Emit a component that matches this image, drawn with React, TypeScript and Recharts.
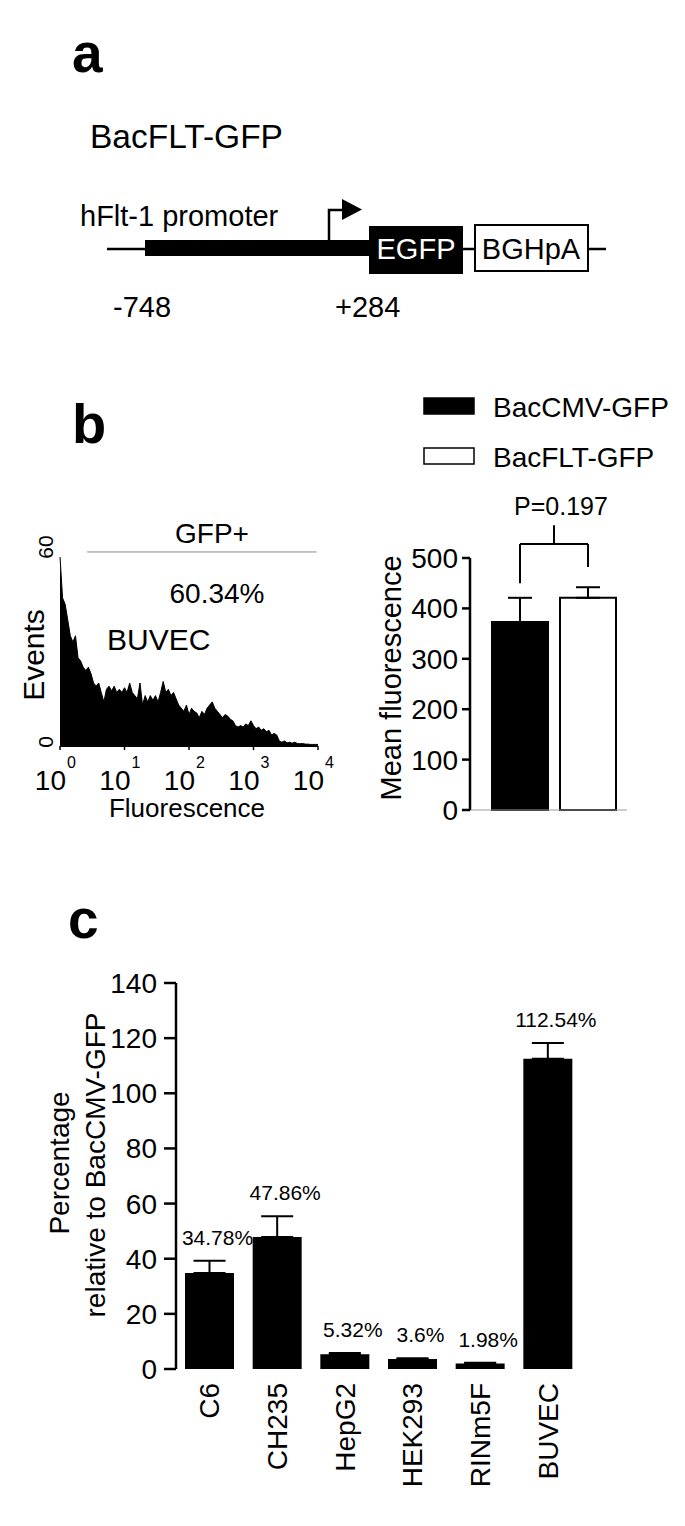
import React from "react";
import {
  AreaChart,
  Area,
  BarChart,
  Bar,
  XAxis,
  YAxis,
  ErrorBar,
  ReferenceLine,
  LabelList,
  Cell,
} from "recharts";

const FONT = '"Liberation Sans", Arial, Helvetica, sans-serif';

// ---- panel b, left: BUVEC flow histogram (log10 fluorescence channels) ----
const HIST_BIN = 0.04;
const histEvents = [
  60, 47, 45, 40, 35, 33, 35, 28, 27, 25, 24, 25, 23, 20, 19, 20, 17, 14, 18, 19,
  17.5, 19, 17, 18, 17, 18.5, 17, 20, 17, 16, 15, 20, 13, 16, 14, 16, 14.5, 16, 14, 17,
  20.5, 17, 18, 16, 17, 15, 13, 12, 11, 13, 10, 12, 11, 10.5, 9, 11, 10, 12, 13, 14,
  12, 11, 10, 9, 10, 9.5, 8.5, 8, 6.5, 6, 6.5, 6, 7, 6.5, 8, 6.5, 5.5, 6, 5, 5.5,
  4.5, 5, 3.5, 4, 3.5, 1.6, 1.2, 1.6, 1, 1.2, 0.9, 1.2, 0.8, 0.7, 0.8, 0.6, 0.6, 0.5, 0.5, 0.5,
  0.5,
];
const histDecades = [0, 1, 2, 3, 4];
const histYTicks = [0, 60];
const gateRange = [0.42, 3.98];
const gateLevel = 61.6;

// ---- panel b, right: mean fluorescence ----
const mfConstructs = ["BacCMV-GFP", "BacFLT-GFP"];
const mfPositions = [0.5, 1.5];
const mfValues = [373, 421];
const mfErrors = [48, 21];
const mfFills = ["#000000", "#ffffff"];
const mfTicks = [0, 100, 200, 300, 400, 500];
const mfBracket = { base: 528, left: 450, right: 482, stem: 565 };

// ---- panel c: percentage relative to BacCMV-GFP ----
const cellLines = ["C6", "CH235", "HepG2", "HEK293", "RINm5F", "BUVEC"];
const pctValues = [34.78, 47.86, 5.32, 3.6, 1.98, 112.54];
const pctErrors = [4.5, 7.5, 0.5, 0.3, 0.3, 5.7];
const pctTicks = [0, 20, 40, 60, 80, 100, 120, 140];

const histData = histEvents.map((events, i) => ({ log: +(i * HIST_BIN).toFixed(2), events }));
const mfData = mfConstructs.map((name, i) => ({
  name,
  pos: mfPositions[i],
  value: mfValues[i],
  err: [0, mfErrors[i]],
  fill: mfFills[i],
}));
const pctData = cellLines.map((name, i) => ({
  name,
  value: pctValues[i],
  err: [0, pctErrors[i]],
  label: `${pctValues[i]}%`,
}));

function PowerTick(props: any) {
  const { x, y, payload } = props;
  return (
    <g fontFamily={FONT} fill="#000">
      <text x={x + 6} y={y + 38} textAnchor="end" fontSize={28}>10</text>
      <text x={x + 7} y={y + 16} textAnchor="start" fontSize={16}>{payload.value}</text>
    </g>
  );
}

function HistYTick(props: any) {
  const { y, payload } = props;
  const cy = y - (payload.value > 0 ? 10 : 4);
  return (
    <text
      x={0}
      y={0}
      transform={`translate(45, ${cy}) rotate(-90)`}
      textAnchor="middle"
      dominantBaseline="central"
      fontFamily={FONT}
      fontSize={21}
      fill="#000"
    >
      {payload.value}
    </text>
  );
}

function CellTick(props: any) {
  const { x, y, payload } = props;
  return (
    <text
      x={0}
      y={0}
      transform={`translate(${x}, ${y + 14}) rotate(-90)`}
      textAnchor="end"
      dominantBaseline="central"
      fontFamily={FONT}
      fontSize={28}
      fill="#000"
    >
      {payload.value}
    </text>
  );
}

function PctLabel(props: any) {
  const { x, y, width, height, value, index } = props;
  const errPx = (pctErrors[index] * height) / pctValues[index];
  return (
    <text
      x={x + width / 2 + 8}
      y={y - errPx - 16}
      textAnchor="middle"
      fontFamily={FONT}
      fontSize={21}
      fill="#000"
    >
      {value}
    </text>
  );
}

function Overlay() {
  const t = { fontFamily: FONT, fill: "#000" } as const;
  return (
    <svg
      width={685}
      height={1526}
      style={{ position: "absolute", left: 0, top: 0, pointerEvents: "none" }}
    >
      {/* panel a: construct map */}
      <text x={72} y={72} fontSize={55} fontWeight="bold" {...t}>a</text>
      <text x={90} y={148} fontSize={33.5} {...t}>BacFLT-GFP</text>
      <text x={80} y={226} fontSize={29} {...t}>hFlt-1 promoter</text>
      <line x1={107} y1={249} x2={606} y2={249} stroke="#000" strokeWidth={2.5} />
      <rect x={145} y={240} width={224} height={16} fill="#000" />
      <path d="M329,241 V210 H344" fill="none" stroke="#000" strokeWidth={2.5} />
      <polygon points="342,199 362,209.5 342,220" fill="#000" />
      <rect x={369} y={226} width={94} height={48} fill="#000" />
      <text x={416} y={259} fontSize={29} textAnchor="middle" fontFamily={FONT} fill="#fff">EGFP</text>
      <rect x={475} y={225} width={113} height={46} fill="#fff" stroke="#000" strokeWidth={2} />
      <text x={531} y={259} fontSize={29} textAnchor="middle" {...t}>BGHpA</text>
      <text x={113} y={317} fontSize={29} {...t}>-748</text>
      <text x={335} y={317} fontSize={29} {...t}>+284</text>

      {/* panel b labels */}
      <text x={72} y={443} fontSize={56} fontWeight="bold" {...t}>b</text>
      {mfConstructs.map((name, i) => (
        <g key={name}>
          <rect
            x={424}
            y={398 + i * 50}
            width={50}
            height={16}
            fill={mfFills[i]}
            stroke="#000"
            strokeWidth={1.5}
          />
          <text x={493} y={417 + i * 50} fontSize={28} {...t}>{name}</text>
        </g>
      ))}
      <text x={212} y={543} fontSize={28} textAnchor="middle" {...t}>GFP+</text>
      <text x={217} y={603} fontSize={28} textAnchor="middle" {...t}>60.34%</text>
      <text x={107} y={650} fontSize={30} {...t}>BUVEC</text>
      <text
        x={0}
        y={0}
        transform="translate(33, 655) rotate(-90)"
        textAnchor="middle"
        dominantBaseline="central"
        fontSize={30}
        {...t}
      >
        Events
      </text>
      <text x={187} y={817} fontSize={26} textAnchor="middle" {...t}>Fluorescence</text>
      <text
        x={0}
        y={0}
        transform="translate(391, 678) rotate(-90)"
        textAnchor="middle"
        dominantBaseline="central"
        fontSize={29}
        {...t}
      >
        Mean fluorescence
      </text>
      <text x={561} y={515} fontSize={25} textAnchor="middle" {...t}>P=0.197</text>

      {/* panel c labels */}
      <text x={68} y={938} fontSize={55} fontWeight="bold" {...t}>c</text>
      <text
        x={0}
        y={0}
        transform="translate(59, 1163) rotate(-90)"
        textAnchor="middle"
        dominantBaseline="central"
        fontSize={28}
        {...t}
      >
        Percentage
      </text>
      <text
        x={0}
        y={0}
        transform="translate(95, 1165) rotate(-90)"
        textAnchor="middle"
        dominantBaseline="central"
        fontSize={28}
        {...t}
      >
        relative to BacCMV-GFP
      </text>
    </svg>
  );
}

export default function App() {
  return (
    <div
      style={{
        position: "absolute",
        left: 0,
        top: 0,
        width: 685,
        height: 1526,
        background: "#fff",
        fontFamily: FONT,
        overflow: "hidden",
      }}
    >
      {/* histogram */}
      <div style={{ position: "absolute", left: 0, top: 480 }}>
        <AreaChart width={340} height={350} data={histData} margin={{ top: 77, right: 22, bottom: 24, left: 0 }}>
          <XAxis
            type="number"
            dataKey="log"
            domain={[0, 4]}
            ticks={histDecades}
            interval={0}
            height={60}
            tickSize={4}
            tickMargin={2}
            axisLine={{ stroke: "#000", strokeWidth: 2 }}
            tickLine={{ stroke: "#000", strokeWidth: 1.5 }}
            tick={<PowerTick />}
          />
          <YAxis
            domain={[0, 60]}
            ticks={histYTicks}
            interval={0}
            width={60}
            axisLine={false}
            tickLine={false}
            tick={<HistYTick />}
          />
          <Area
            type="linear"
            dataKey="events"
            stroke="#000"
            strokeWidth={1}
            fill="#000"
            fillOpacity={1}
            dot={false}
            activeDot={false}
            isAnimationActive={false}
          />
          <ReferenceLine
            segment={[
              { x: gateRange[0], y: gateLevel },
              { x: gateRange[1], y: gateLevel },
            ]}
            stroke="#888"
            strokeWidth={1}
            ifOverflow="visible"
          />
        </AreaChart>
      </div>

      {/* mean fluorescence bars */}
      <div style={{ position: "absolute", left: 330, top: 380 }}>
        <BarChart width={355} height={460} data={mfData} margin={{ top: 178, right: 58, bottom: 29, left: 0 }} barSize={56}>
          <XAxis
            type="number"
            dataKey="pos"
            domain={[0, 2]}
            padding={{ left: 16, right: 5 }}
            height={1}
            tick={false}
            tickLine={false}
            axisLine={{ stroke: "#999", strokeWidth: 1 }}
          />
          <YAxis
            domain={[0, 500]}
            ticks={mfTicks}
            interval={0}
            width={140}
            tickSize={8}
            tickMargin={4}
            axisLine={{ stroke: "#000", strokeWidth: 2.5 }}
            tickLine={{ stroke: "#000", strokeWidth: 2.5 }}
            tick={{ fill: "#000", fontSize: 28, fontFamily: FONT }}
          />
          <Bar dataKey="value" isAnimationActive={false}>
            {mfData.map((d, i) => (
              <Cell key={i} fill={d.fill} stroke="#000" strokeWidth={2} />
            ))}
            <ErrorBar dataKey="err" direction="y" width={12} stroke="#000" strokeWidth={2} />
          </Bar>
          <ReferenceLine
            segment={[{ x: mfPositions[0], y: mfBracket.left }, { x: mfPositions[0], y: mfBracket.base }]}
            stroke="#000"
            strokeWidth={2}
            ifOverflow="visible"
          />
          <ReferenceLine
            segment={[{ x: mfPositions[0], y: mfBracket.base }, { x: mfPositions[1], y: mfBracket.base }]}
            stroke="#000"
            strokeWidth={2}
            ifOverflow="visible"
          />
          <ReferenceLine
            segment={[{ x: mfPositions[1], y: mfBracket.right }, { x: mfPositions[1], y: mfBracket.base }]}
            stroke="#000"
            strokeWidth={2}
            ifOverflow="visible"
          />
          <ReferenceLine
            segment={[
              { x: (mfPositions[0] + mfPositions[1]) / 2, y: mfBracket.base },
              { x: (mfPositions[0] + mfPositions[1]) / 2, y: mfBracket.stem },
            ]}
            stroke="#000"
            strokeWidth={2}
            ifOverflow="visible"
          />
        </BarChart>
      </div>

      {/* panel c bars */}
      <div style={{ position: "absolute", left: 0, top: 940 }}>
        <BarChart width={685} height={586} data={pctData} margin={{ top: 43, right: 103, bottom: 37, left: 0 }} barSize={49}>
          <XAxis
            dataKey="name"
            interval={0}
            height={120}
            tickSize={0}
            tickMargin={0}
            axisLine={false}
            tickLine={false}
            tick={<CellTick />}
          />
          <YAxis
            domain={[0, 140]}
            ticks={pctTicks}
            interval={0}
            width={176}
            tickSize={12}
            tickMargin={7}
            axisLine={{ stroke: "#000", strokeWidth: 2.5 }}
            tickLine={{ stroke: "#000", strokeWidth: 2.5 }}
            tick={{ fill: "#000", fontSize: 28, fontFamily: FONT }}
          />
          <Bar dataKey="value" fill="#000" isAnimationActive={false}>
            <ErrorBar dataKey="err" direction="y" width={16} stroke="#000" strokeWidth={2} />
            <LabelList dataKey="label" content={<PctLabel />} />
          </Bar>
        </BarChart>
      </div>

      <Overlay />
    </div>
  );
}
